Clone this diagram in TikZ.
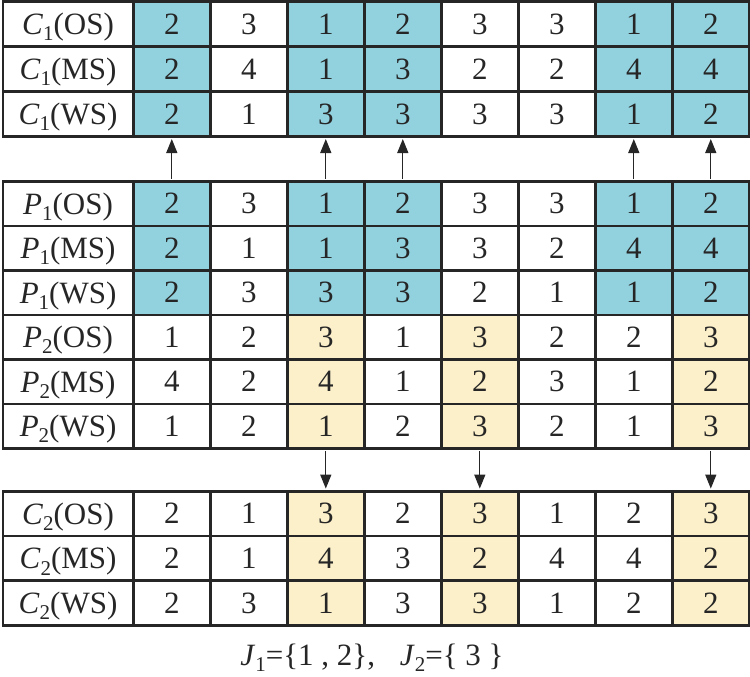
\documentclass[tikz,border=0pt]{standalone}
\usepackage{fontspec}
\setmainfont{Liberation Serif}
\usetikzlibrary{arrows.meta}
\definecolor{B}{RGB}{146,210,223}
\definecolor{Y}{RGB}{252,240,202}
\definecolor{W}{RGB}{255,255,255}
\newcommand\lab[3]{\textit{#1}\raisebox{-0.2em}{\fontsize{21}{21}\selectfont #2}(#3)}
\newcommand\mkrow[6]{%
  \node[hcell, minimum height=#3pt] (#1-0) at (1.5,-#2) {#4};
  \foreach \v/\f [count=\i] in {#5} {
    \node[vcell, fill=\f, minimum height=#3pt] (#1-\i) at ({132+77*(\i-1)},-#2) {\v};
  }
}
\begin{document}
\begin{tikzpicture}[x=1pt,y=1pt,
  hcell/.style={draw=black!85, line width=2.6pt, minimum width=130.5pt, inner sep=0pt, anchor=north west, font=\fontsize{31}{31}\selectfont, text=black!85, text height=21pt, text depth=0pt},
  vcell/.style={draw=black!85, line width=2.6pt, minimum width=77pt, inner sep=0pt, anchor=north west, font=\fontsize{31}{31}\selectfont, text=black!85, text height=20.5pt, text depth=0pt},
  arr/.style={line width=1.3pt, draw=black!85, -{Triangle[length=14pt,width=11pt]}, shorten >=1.4pt, shorten <=1.4pt}]
\useasboundingbox (0,0) rectangle (750,-677);
% C1 block
\mkrow{c1os}{0}{45}{\lab{C}{1}{OS}}{2/B,3/W,1/B,2/B,3/W,3/W,1/B,2/B}{}
\mkrow{c1ms}{45}{45}{\lab{C}{1}{MS}}{2/B,4/W,1/B,3/B,2/W,2/W,4/B,4/B}{}
\mkrow{c1ws}{90}{45}{\lab{C}{1}{WS}}{2/B,1/W,3/B,3/B,3/W,3/W,1/B,2/B}{}
% P block
\mkrow{p1os}{180}{44.5}{\lab{P}{1}{OS}}{2/B,3/W,1/B,2/B,3/W,3/W,1/B,2/B}{}
\mkrow{p1ms}{224.5}{44.5}{\lab{P}{1}{MS}}{2/B,1/W,1/B,3/B,3/W,2/W,4/B,4/B}{}
\mkrow{p1ws}{269}{44.5}{\lab{P}{1}{WS}}{2/B,3/W,3/B,3/B,2/W,1/W,1/B,2/B}{}
\mkrow{p2os}{313.5}{44.5}{\lab{P}{2}{OS}}{1/W,2/W,3/Y,1/W,3/Y,2/W,2/W,3/Y}{}
\mkrow{p2ms}{358}{44.5}{\lab{P}{2}{MS}}{4/W,2/W,4/Y,1/W,2/Y,3/W,1/W,2/Y}{}
\mkrow{p2ws}{402.5}{44.5}{\lab{P}{2}{WS}}{1/W,2/W,1/Y,2/W,3/Y,2/W,1/W,3/Y}{}
% C2 block
\mkrow{c2os}{490}{44.7}{\lab{C}{2}{OS}}{2/W,1/W,3/Y,2/W,3/Y,1/W,2/W,3/Y}{}
\mkrow{c2ms}{534.7}{44.7}{\lab{C}{2}{MS}}{2/W,1/W,4/Y,3/W,2/Y,4/W,4/W,2/Y}{}
\mkrow{c2ws}{579.4}{44.7}{\lab{C}{2}{WS}}{2/W,3/W,1/Y,3/W,3/Y,1/W,2/W,2/Y}{}
% arrows up
\foreach \k in {1,3,4,7,8} {\draw[arr] (p1os-\k.north) -- (c1ws-\k.south);}
% arrows down
\foreach \k in {3,5,8} {\draw[arr] (p2ws-\k.south) -- (c2os-\k.north);}
% caption
\node[font=\fontsize{31}{31}\selectfont, text=black!85] (cap) at (372,-658) {\textit{J}\raisebox{-0.2em}{\fontsize{21}{21}\selectfont 1}=\{1 , 2\},\hspace{0.8em}\textit{J}\raisebox{-0.2em}{\fontsize{21}{21}\selectfont 2}=\{ 3 \}};
\end{tikzpicture}
\end{document}
